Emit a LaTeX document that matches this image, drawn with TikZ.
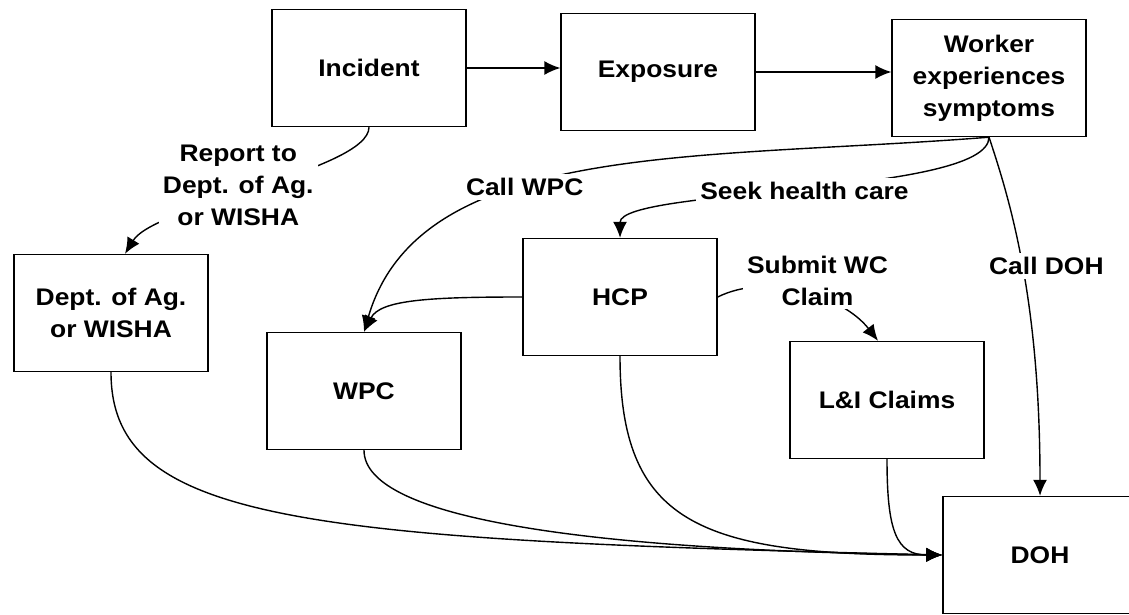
\documentclass[tikz,border=0pt]{standalone}
\usepackage{fontspec}
\setmainfont[FakeStretch=1.1]{Liberation Sans}
\usetikzlibrary{arrows.meta}

\begin{document}
\begin{tikzpicture}[box/.style={draw, minimum width=97pt, minimum height=58.5pt, align=center, inner sep=2pt},
					lbl/.style={fill=white, align=center, inner sep=2pt},
					x=0.5pt, y=-0.5pt,
					>={Latex[length=8pt,width=7pt]},   %Pfeilspitzen
					line width=0.7pt, font=\fontsize{12}{16}\selectfont\bfseries]
					%Bildbereich
					\useasboundingbox (0,0) rectangle (1129,615);
					% Kaesten zeichnen
					\node[box] (inc)  at (369,68)   {Incident};
					\node[box] (expo) at (658,72)   {Exposure};
					\node[box] (work) at (989,78)   {Worker\\experiences\\symptoms};
					\node[box] (dept) at (111,313)  {Dept. of Ag.\\or WISHA};
					\node[box] (hcp)  at (620,297)  {HCP};
					\node[box] (wpc)  at (364,391)  {WPC};
					\node[box] (lni)  at (887,400)  {L\&I Claims};
					\node[box] (doh)  at (1040,555) {DOH};
					% Pfeile oben
					\draw[->] (inc.east) -- (inc.east -| expo.west);
					\draw[->] (expo.east) -- (expo.east -| work.west);
					% Meldewege
					\draw[->] (inc.south) .. controls +(0,43) and +(30,-49) .. ([xshift=7pt]dept.north)
						node[lbl, pos=0.5, xshift=-10pt, yshift=1.5pt] {Report to\\Dept. of Ag.\\or WISHA};
					\draw[->] (work.south) .. controls +(-290,23) and +(56,-192) .. (wpc.north)
						node[lbl, pos=0.6] {Call WPC};
					\draw[->] (work.south) .. controls +(0,58) and +(0,-50) .. (hcp.north)
						node[lbl, pos=0.5] {Seek health care};
					\draw[->] (work.south) .. controls +(21,63) and +(0,-197) .. (doh.north)
						node[lbl, pos=0.5, xshift=12pt] {Call DOH};
					\draw[->] (hcp.east) .. controls +(50,-25) and +(-35,-45) .. ([xshift=-4.5pt]lni.north)
						node[lbl, pos=0.5, xshift=7pt, yshift=6pt] {Submit WC\\Claim};
					\draw[->] (hcp.west) .. controls +(-93,0) and +(16,-32) .. (wpc.north);
					% alles nach DOH
					\draw[->] (dept.south) .. controls +(0,148) and +(-646,-15) .. (doh.west);
					\draw[->] (wpc.south) .. controls +(0,70) and +(-346,-5) .. (doh.west);
					\draw[->] (hcp.south) .. controls +(0,165) and +(-246,0) .. (doh.west);
					\draw[->] (lni.south) .. controls +(0,72) and +(-46,0) .. (doh.west);
				\end{tikzpicture}
\end{document}
